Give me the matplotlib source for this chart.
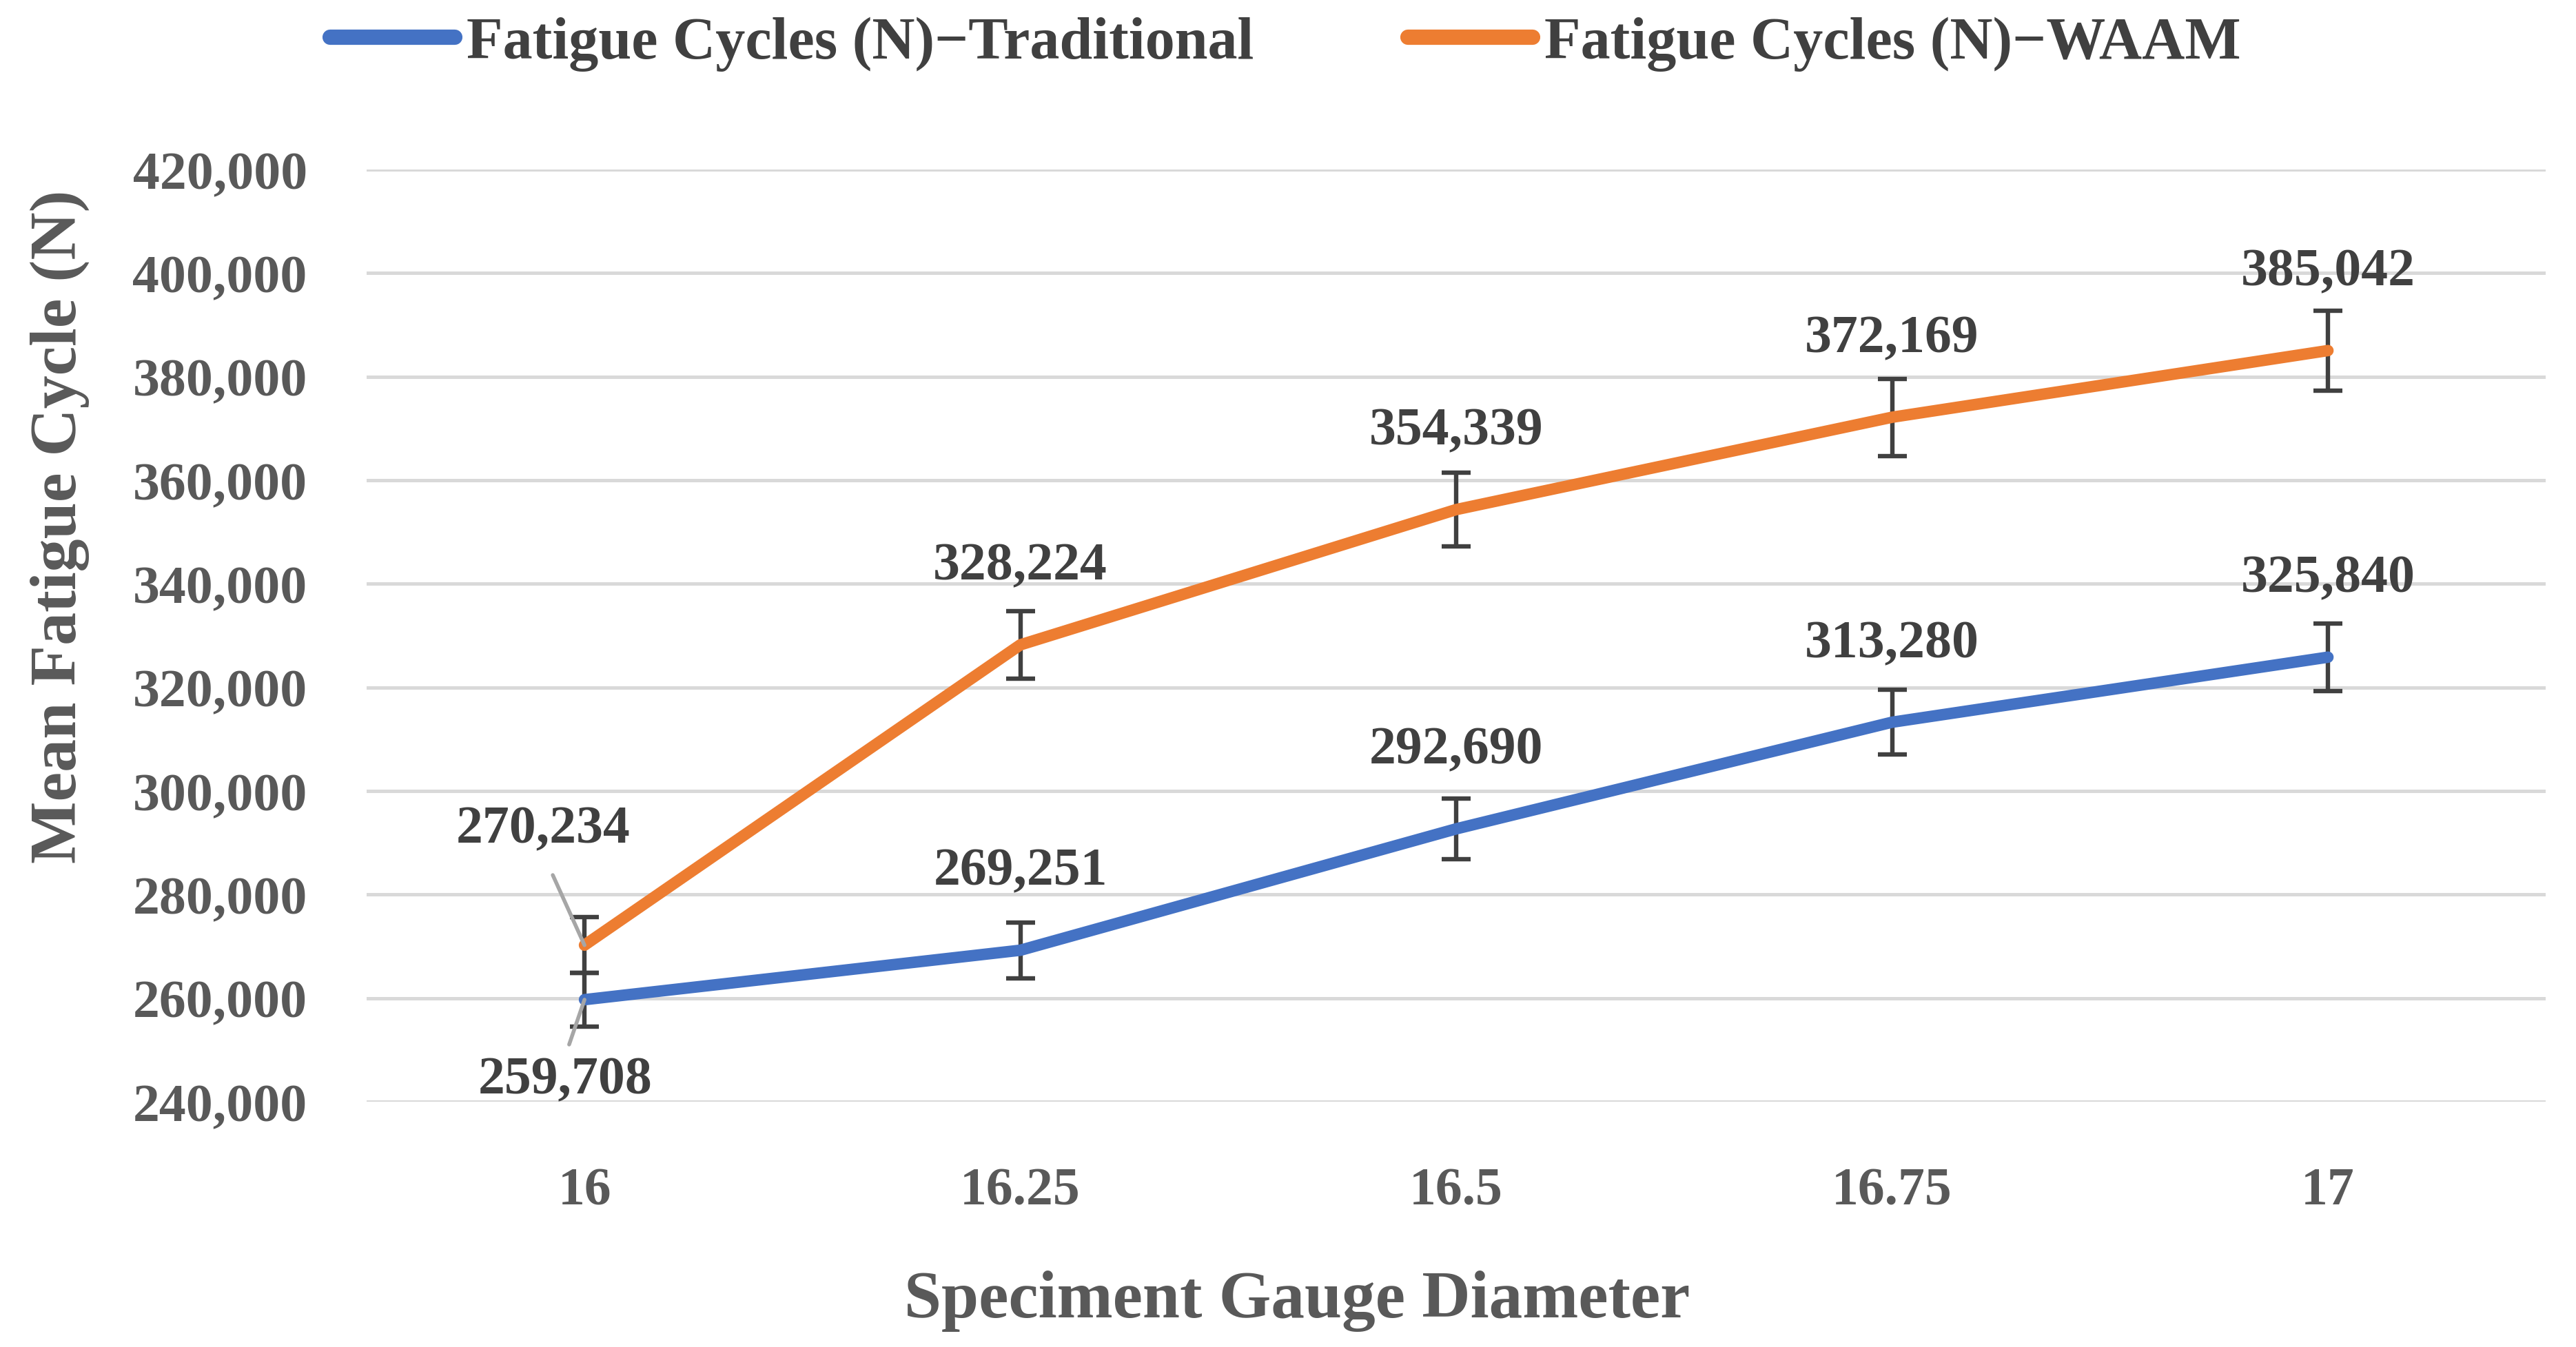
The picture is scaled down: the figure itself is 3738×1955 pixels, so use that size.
import matplotlib.pyplot as plt
from matplotlib.ticker import FuncFormatter

# data
diameters = [16, 16.25, 16.5, 16.75, 17]
tick_labels = ['16', '16.25', '16.5', '16.75', '17']
trad_cycles = [259708, 269251, 292690, 313280, 325840]
waam_cycles = [270234, 328224, 354339, 372169, 385042]
trad_err = [5194, 5385, 5854, 6266, 6517]
waam_err = [5405, 6564, 7087, 7443, 7701]

BLUE = '#4472C4'
ORANGE = '#ED7D31'
DARK = '#404040'
MID = '#595959'
FONT = 'Liberation Serif'

plt.rcParams['font.family'] = FONT
plt.rcParams['font.weight'] = 'bold'

fig = plt.figure(figsize=(18.69, 9.78), dpi=200)
ax = fig.add_axes([0.1423, 0.182, 0.8460, 0.6917])

# lines
ax.plot(diameters, trad_cycles, color=BLUE, lw=6, solid_capstyle='round',
        zorder=3, label='Fatigue Cycles (N)\u2212Traditional')
ax.plot(diameters, waam_cycles, color=ORANGE, lw=6, solid_capstyle='round',
        zorder=3, label='Fatigue Cycles (N)\u2212WAAM')

# error bars
for vals, errs in [(trad_cycles, trad_err), (waam_cycles, waam_err)]:
    ax.errorbar(diameters, vals, yerr=errs, fmt='none', ecolor=DARK,
                elinewidth=2.3, capsize=7.5, capthick=2.3, zorder=2)

# data labels (first point of each series gets a leader line)
lab_kw = dict(ha='center', va='center', fontsize=28, color=DARK,
              fontweight='bold', textcoords='offset points', zorder=5)
for i, (x, y) in enumerate(zip(diameters, trad_cycles)):
    if i == 0:
        ax.annotate(f'{y:,}', (x, y), xytext=(-10, -42), **lab_kw,
                    arrowprops=dict(arrowstyle='-', color='#A6A6A6', lw=2,
                                    relpos=(0.5, 1.0), shrinkA=4, shrinkB=0))
    else:
        ax.annotate(f'{y:,}', (x, y), xytext=(0, 41), **lab_kw)
for i, (x, y) in enumerate(zip(diameters, waam_cycles)):
    if i == 0:
        ax.annotate(f'{y:,}', (x, y), xytext=(-21.6, 60.5), **lab_kw,
                    arrowprops=dict(arrowstyle='-', color='#A6A6A6', lw=2,
                                    relpos=(0.5, 0.0), shrinkA=10, shrinkB=0))
    else:
        ax.annotate(f'{y:,}', (x, y), xytext=(0, 41), **lab_kw)

# axes styling
ax.set_xlim(15.875, 17.125)
ax.set_ylim(240000, 420000)
ax.set_yticks(range(240000, 420001, 20000))
ax.yaxis.set_major_formatter(FuncFormatter(lambda v, p: f'{int(v):,}'))
ax.set_xticks(diameters)
ax.set_xticklabels(tick_labels)
ax.grid(axis='y', color='#D9D9D9', lw=1.8, zorder=0)
ax.set_axisbelow(True)
for s in ax.spines.values():
    s.set_visible(False)
ax.tick_params(axis='both', length=0, labelsize=28, labelcolor=MID)
ax.tick_params(axis='y', pad=31)
ax.tick_params(axis='x', pad=34)

ax.set_ylabel('Mean Fatigue Cycle (N)', fontsize=34.5, color=MID,
              fontweight='bold')
ax.yaxis.set_label_coords(-0.127, 0.618)
ax.set_xlabel('Speciment Gauge Diameter', fontsize=35, color=MID,
              fontweight='bold')
ax.xaxis.set_label_coords(0.427, -0.18)

leg = fig.legend(loc='center', bbox_to_anchor=(0.499, 0.967), ncol=2,
                 frameon=False, fontsize=31, handlelength=2.1,
                 handletextpad=0.2, columnspacing=2.6)
for t in leg.get_texts():
    t.set_color(DARK)
for h in leg.get_lines():
    h.set_linewidth(8)

fig.savefig('out.png', dpi=200)
